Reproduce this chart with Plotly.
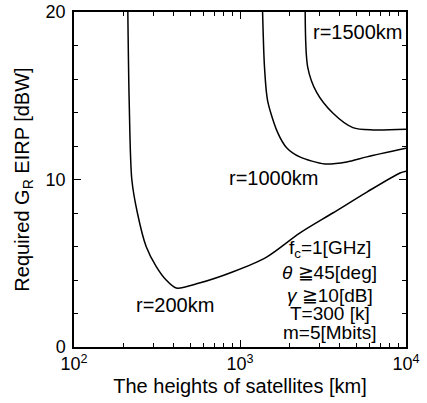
import plotly.graph_objects as go

# r = 200 km
h200 = [211, 215, 223, 241, 272, 313, 359, 413, 569, 901, 1446, 2288, 3622, 5811, 9200, 10000]
e200 = [20.0, 14.7, 10.0, 8.0, 6.0, 4.8, 4.0, 3.52, 3.82, 4.48, 5.37, 6.8, 8.0, 9.25, 10.39, 10.5]
# r = 1000 km
h1000 = [1368, 1405, 1467, 1687, 1909, 2291, 3244, 4394, 5811, 10000]
e1000 = [20.0, 16.7, 14.7, 12.8, 11.9, 11.35, 10.93, 11.05, 11.35, 11.86]
# r = 1500 km
h1500 = [2470, 2559, 2897, 3622, 4786, 6330, 10000]
e1500 = [20.0, 16.7, 15.2, 13.97, 13.1, 12.96, 13.0]

x_tickvals = [100, 1000, 10000]
x_ticktext = ["10<sup>2</sup>", "10<sup>3</sup>", "10<sup>4</sup>"]
x_minor = [v * m for v in (100, 1000) for m in range(2, 10)]
y_tickvals = [0, 10, 20]
y_minor = [2, 4, 6, 8, 12, 14, 16, 18]

FONT = "Liberation Sans, Arial, sans-serif"

fig = go.Figure()
for h, e in ((h200, e200), (h1000, e1000), (h1500, e1500)):
    fig.add_trace(go.Scatter(x=h, y=e, mode="lines",
                             line=dict(color="black", width=1.5, shape="spline", smoothing=0.8),
                             showlegend=False, hoverinfo="skip"))

annots = [
    dict(x=3.713, y=18.82, text="r=1500km"),
    dict(x=3.202, y=10.09, text="r=1000km"),
    dict(x=2.610, y=2.51, text="r=200km"),
]
for a in annots:
    fig.add_annotation(x=a["x"], y=a["y"], text=a["text"], showarrow=False, xref="x", yref="y",
                       font=dict(size=20, color="black", family=FONT))

params = ["f<sub>c</sub>=1[GHz]", "<i>θ</i> ≧45[deg]", "<i>γ</i> ≧10[dB]", "T=300 [k]", "m=5[Mbits]"]
py = [5.85, 4.42, 3.10, 2.03, 0.86]
for t, yv in zip(params, py):
    fig.add_annotation(x=3.541, y=yv, text=t, showarrow=False, xref="x", yref="y",
                       font=dict(size=19, color="black", family=FONT))

fig.update_xaxes(type="log", range=[2, 4], tickvals=x_tickvals, ticktext=x_ticktext, automargin=False,
                 ticks="inside", ticklen=7, tickwidth=1.2, tickcolor="black",
                 minor=dict(tickvals=x_minor, ticks="inside", ticklen=4, tickwidth=1, tickcolor="black", showgrid=False),
                 showline=True, linecolor="black", linewidth=1.5, mirror="ticks", showgrid=False, zeroline=False,
                 tickfont=dict(size=18, color="black", family=FONT),
                 title=dict(text="The heights of satellites [km]", font=dict(size=20, color="black", family=FONT), standoff=6))
fig.update_yaxes(range=[0, 20], tickvals=y_tickvals, automargin=False,
                 ticks="inside", ticklen=7, tickwidth=1.2, tickcolor="black",
                 minor=dict(tickvals=y_minor, ticks="inside", ticklen=4, tickwidth=1, tickcolor="black", showgrid=False),
                 showline=True, linecolor="black", linewidth=1.5, mirror="ticks", showgrid=False, zeroline=False,
                 tickfont=dict(size=18, color="black", family=FONT), ticklabelstandoff=3,
                 title=dict(text="Required G<sub>R</sub> EIRP [dBW]", font=dict(size=20, color="black", family=FONT), standoff=11))

fig.update_layout(width=427, height=403, margin=dict(l=74, r=21, t=12, b=56, autoexpand=False),
                  plot_bgcolor="white", paper_bgcolor="white", font=dict(family=FONT, color="black"))
fig.write_html("out.html", config={"displayModeBar": False},
               post_script="document.body.style.margin='0';")
